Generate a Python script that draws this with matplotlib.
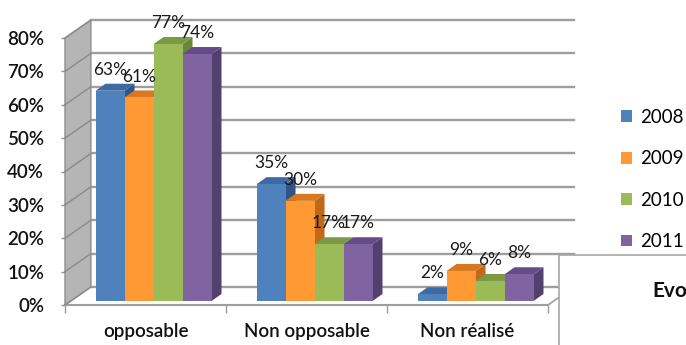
import matplotlib.pyplot as plt
from matplotlib.patches import Polygon, Rectangle, Patch

plt.rcParams['font.family'] = ['Lato', 'DejaVu Sans']

# data
categories = ['opposable', 'Non opposable', 'Non réalisé']
years = ['2008', '2009', '2010', '2011']
v2008 = [63, 35, 2]
v2009 = [61, 30, 9]
v2010 = [77, 17, 6]
v2011 = [74, 17, 8]
series = [v2008, v2009, v2010, v2011]
y_ticks = [0, 10, 20, 30, 40, 50, 60, 70, 80]

# excel-like shading: front / top / side
front_c = ['#4f81bd', '#ff9933', '#9bbb59', '#8064a2']
top_c = ['#3d6aa3', '#d9791f', '#7c9a45', '#654c88']
side_c = ['#2f5687', '#c0691a', '#6a863a', '#52406f']

# fake 3d offsets (data units)
WALL_DX, WALL_DY = 0.161, 5.4
BAR_FX, BAR_FY = 0.05, 1.2
BAR_DX, BAR_DY = 0.062, 2.1
BAR_W = 0.18

fig = plt.figure(figsize=(6.86, 3.45), dpi=100)
ax = fig.add_axes([65 / 686, 40 / 345, 483 / 686, 267 / 345])
ax.set_xlim(-0.5, 2.5)
ax.set_ylim(0, 80)
for s in ax.spines.values():
    s.set_visible(False)

grid_c = '#9e9e9e'
x0, x1 = -0.5, 2.5

# left wall
wall = Polygon([(x0, 0), (x0 + WALL_DX, WALL_DY), (x0 + WALL_DX, 80 + WALL_DY), (x0, 80)],
               closed=True, fc='#b5b5b5', ec='#8e8e8e', lw=1, clip_on=False, zorder=1)
ax.add_patch(wall)

for t in y_ticks:
    # back wall gridline
    ax.plot([x0 + WALL_DX, x1 + WALL_DX], [t + WALL_DY, t + WALL_DY], color=grid_c, lw=1.7,
            clip_on=False, zorder=1)
    # gridline on the side wall
    ax.plot([x0, x0 + WALL_DX], [t, t + WALL_DY], color='#8a8a8a', lw=1, clip_on=False, zorder=1.5)

# floor edges
ax.plot([x0, x1], [0, 0], color=grid_c, lw=1.5, clip_on=False, zorder=1)
ax.plot([x1, x1 + WALL_DX], [0, WALL_DY], color=grid_c, lw=1.2, clip_on=False, zorder=1)

# bars
for k, vals in enumerate(series):
    xs = [i + (k - 1.5) * BAR_W + BAR_FX for i in range(len(categories))]
    for x, v in zip(xs, vals):
        xl, xr = x - BAR_W / 2, x + BAR_W / 2
        yb, yt = BAR_FY, BAR_FY + v
        side = Polygon([(xr, yb), (xr + BAR_DX, yb + BAR_DY), (xr + BAR_DX, yt + BAR_DY), (xr, yt)],
                       closed=True, fc=side_c[k], ec='none', zorder=3 + k, clip_on=False)
        top = Polygon([(xl, yt), (xr, yt), (xr + BAR_DX, yt + BAR_DY), (xl + BAR_DX, yt + BAR_DY)],
                      closed=True, fc=top_c[k], ec='none', zorder=3 + k, clip_on=False)
        ax.add_patch(side)
        ax.add_patch(top)
    bars = ax.bar(xs, vals, width=BAR_W, bottom=BAR_FY, color=front_c[k], lw=0, zorder=3 + k)
    for b in bars:
        b.set_clip_on(False)
    for x, v in zip(xs, vals):
        ax.annotate(f'{v}%', (x, BAR_FY + v), xytext=(0, 15), textcoords='offset points',
                    ha='center', va='center', fontsize=12.5, color='#1a1a1a', zorder=20,
                    annotation_clip=False)

# axes ticks
ax.set_yticks(y_ticks)
ax.set_yticklabels([f'{t}%' for t in y_ticks], fontsize=13.5, color='#111111', fontweight='semibold')
ax.tick_params(axis='y', length=3, width=1, color='#8e8e8e', pad=12)
ax.set_xticks([-0.5, 0.5, 1.5, 2.5])
ax.set_xticklabels([])
ax.tick_params(axis='x', which='major', length=6, width=1, color=grid_c)
ax.set_xticks([0, 1, 2], minor=True)
ax.set_xticklabels(categories, minor=True, fontsize=13.5, color='#111111', fontweight='semibold')
ax.tick_params(axis='x', which='minor', length=0, pad=13)

# legend
handles = [Patch(fc=c, ec='none') for c in front_c]
fig.legend(handles, years, loc='upper left', bbox_to_anchor=(621 / 686, 1 - 109 / 345),
           frameon=False, fontsize=13.5, handlelength=0.6, handleheight=0.6,
           handletextpad=0.4, labelspacing=1.3, borderpad=0, borderaxespad=0)

# title box in the corner
box = Rectangle((559 / 686, -0.05), 0.3, (345 - 255) / 345 + 0.05, transform=fig.transFigure,
                fc='white', ec='#a6a6a6', lw=1.2, zorder=5)
fig.add_artist(box)
fig.text(652 / 686, 1 - 291 / 345, 'Evo', fontsize=15, fontweight='bold', color='#111111',
         va='center', ha='left', zorder=6)

fig.savefig('out.png', dpi=100)
